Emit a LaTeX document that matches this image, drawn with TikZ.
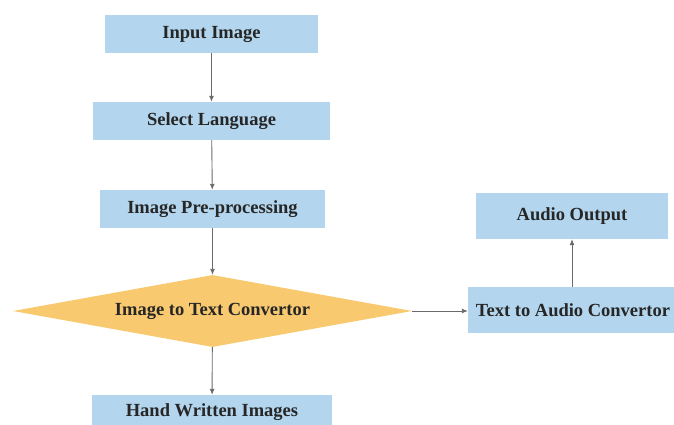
\documentclass[tikz,border=0pt]{standalone}
\usepackage{fontspec}
\setmainfont{Liberation Serif}
\usetikzlibrary{shapes.geometric,arrows.meta}
\definecolor{boxblue}{HTML}{B3D6EE}
\definecolor{diafill}{HTML}{F8C96E}
\definecolor{txt}{HTML}{262626}
\definecolor{arr}{HTML}{6A6A6A}
\tikzset{
  stepbox/.style={rectangle, fill=boxblue, draw=none, inner sep=0pt,
    font=\bfseries\fontsize{18.5}{20}\selectfont, text=txt},
  decision/.style={diamond, fill=diafill, draw=none, inner sep=0pt, aspect=5.5,
    font=\bfseries\fontsize{18.5}{20}\selectfont, text=txt},
  flow/.style={draw=arr, line width=0.9pt, -{Latex[length=6pt,width=5pt]}}
}
\begin{document}
\begin{tikzpicture}[x=1pt,y=-1pt]
\useasboundingbox (0,0) rectangle (674,425);
\fill[white] (0,0) rectangle (674,425);
\node[stepbox, minimum width=213pt, minimum height=38pt] (input) at (211.5,34) {Input Image};
\node[stepbox, minimum width=237pt, minimum height=38pt] (lang) at (211.5,121) {Select Language};
\node[stepbox, minimum width=225pt, minimum height=38pt] (pre) at (212.5,209) {Image Pre-processing};
\node[decision, minimum width=399pt, minimum height=72pt] (conv) at (212.5,311) {Image to Text Convertor};
\node[stepbox, minimum width=240pt, minimum height=34pt] (hand) at (212,412) {Hand Written Images};
\node[stepbox, minimum width=210pt, minimum height=46pt] (tts) at (573,310) {Text to Audio Convertor};
\node[stepbox, minimum width=192pt, minimum height=46pt] (audio) at (572,216) {Audio Output};
\draw[flow] (input) -- (lang);
\draw[flow] (lang) -- (pre);
\draw[flow] (pre) -- (conv);
\draw[flow] (conv) -- (hand);
\draw[flow] (conv.east) -- (conv.east -| tts.west);
\draw[flow] (tts.north -| audio) -- (audio);
\end{tikzpicture}
\end{document}
